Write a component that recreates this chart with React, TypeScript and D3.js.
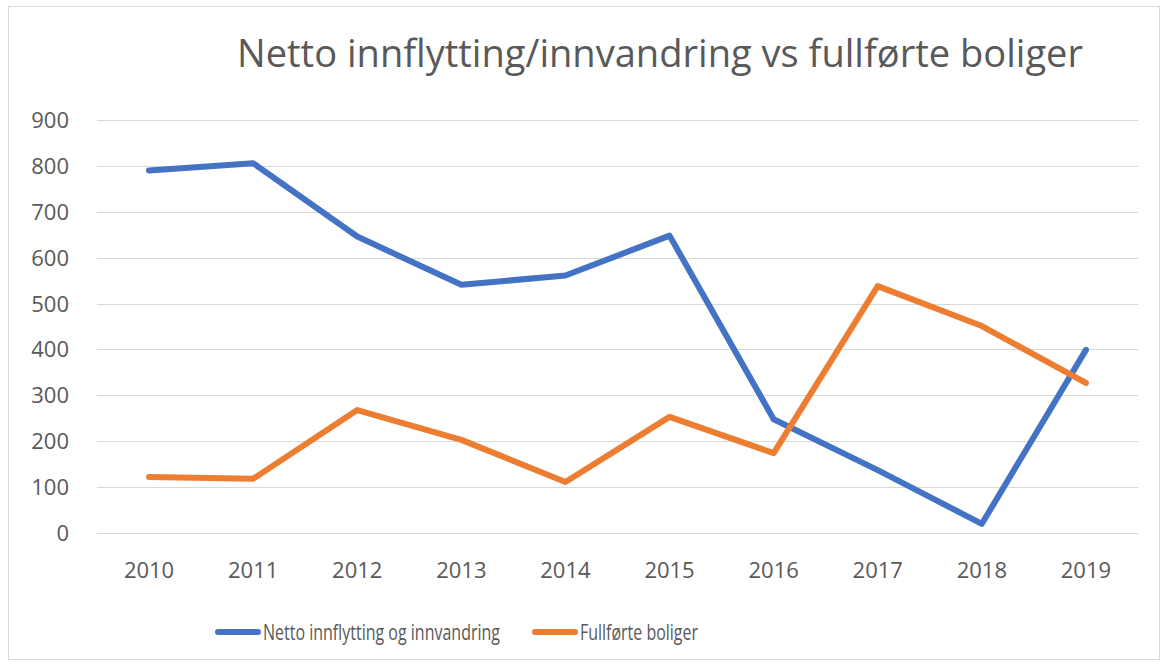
import React, { useEffect, useRef } from 'react';
import * as d3 from 'd3';

const years = ['2010', '2011', '2012', '2013', '2014', '2015', '2016', '2017', '2018', '2019'];
const netto = [790, 806, 646, 541, 561, 648, 248, 137, 20, 399];
const fullforte = [122, 118, 268, 203, 111, 253, 174, 538, 451, 327];
const yTicks = [0, 100, 200, 300, 400, 500, 600, 700, 800, 900];
const seriesNames = ['Netto innflytting og innvandring', 'Fullførte boliger'];
const title = 'Netto innflytting/innvandring vs fullførte boliger';

const W = 1167;
const H = 666;
const colors = ['#4472C4', '#ED7D31'];
const textColor = '#595959';
const font = '"Open Sans", "Noto Sans", sans-serif';

export default function App() {
  const ref = useRef<SVGSVGElement>(null);

  useEffect(() => {
    const svg = d3.select(ref.current);
    svg.selectAll('*').remove();

    const x = d3.scaleBand().domain(years).range([97, 1138]);
    const y = d3.scaleLinear().domain([0, 900]).range([533, 120]);

    svg.append('rect')
      .attr('x', 8.5).attr('y', 6.5)
      .attr('width', 1151).attr('height', 653)
      .attr('fill', '#fff').attr('stroke', '#d9d9d9');

    svg.append('text')
      .attr('x', 237).attr('y', 67)
      .attr('textLength', 846).attr('lengthAdjust', 'spacingAndGlyphs')
      .attr('font-family', font).attr('font-size', 38)
      .attr('fill', textColor)
      .text(title);

    // gridlines
    svg.append('g')
      .selectAll('line')
      .data(yTicks)
      .enter()
      .append('line')
      .attr('x1', 97).attr('x2', 1138)
      .attr('y1', d => Math.round(y(d)) + 0.5)
      .attr('y2', d => Math.round(y(d)) + 0.5)
      .attr('stroke', '#d9d9d9').attr('stroke-width', 1);

    svg.append('g')
      .selectAll('text')
      .data(yTicks)
      .enter()
      .append('text')
      .attr('x', 69).attr('y', d => y(d) + 8)
      .attr('text-anchor', 'end')
      .attr('font-family', font).attr('font-size', 22)
      .attr('fill', textColor)
      .text(d => d);

    svg.append('g')
      .selectAll('text')
      .data(years)
      .enter()
      .append('text')
      .attr('x', d => (x(d) as number) + x.bandwidth() / 2)
      .attr('y', 578)
      .attr('text-anchor', 'middle')
      .attr('font-family', font).attr('font-size', 22)
      .attr('fill', textColor)
      .text(d => d);

    const line = d3.line<number>()
      .x((_, i) => (x(years[i]) as number) + x.bandwidth() / 2)
      .y(d => y(d));

    [netto, fullforte].forEach((data, i) => {
      svg.append('path')
        .attr('d', line(data))
        .attr('fill', 'none')
        .attr('stroke', colors[i])
        .attr('stroke-width', 6)
        .attr('stroke-linejoin', 'round')
        .attr('stroke-linecap', 'round');
    });

    // legend
    const legend = [
      { x: 218, textX: 263, textLen: 237 },
      { x: 535, textX: 580, textLen: 118 },
    ];
    legend.forEach((l, i) => {
      svg.append('line')
        .attr('x1', l.x).attr('x2', l.x + 40)
        .attr('y1', 632).attr('y2', 632)
        .attr('stroke', colors[i]).attr('stroke-width', 6)
        .attr('stroke-linecap', 'round');
      svg.append('text')
        .attr('x', l.textX).attr('y', 640)
        .attr('textLength', l.textLen).attr('lengthAdjust', 'spacingAndGlyphs')
        .attr('font-family', font).attr('font-size', 22)
        .attr('fill', textColor)
        .text(seriesNames[i]);
    });
  }, []);

  return (
    <svg
      ref={ref}
      width={W}
      height={H}
      style={{ position: 'absolute', left: 0, top: 0, background: '#fff' }}
    />
  );
}
